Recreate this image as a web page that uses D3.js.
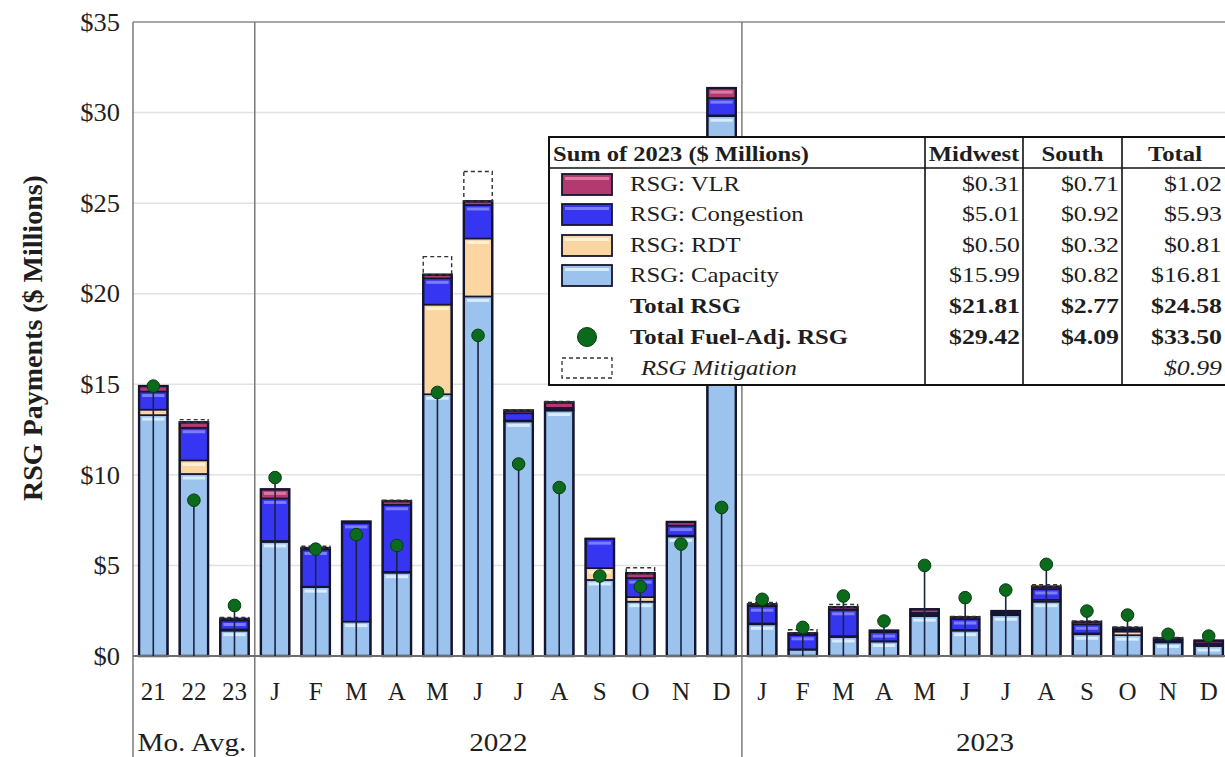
<!DOCTYPE html>
<html>
<head>
<meta charset="utf-8">
<script src="https://cdn.jsdelivr.net/npm/d3@7"></script>
<style>
  html, body { margin: 0; padding: 0; background: #fff; }
  svg { display: block; font-family: "Liberation Serif", "Times New Roman", serif; }
</style>
</head>
<body>
<svg id="chart" width="1225" height="757"></svg>
<script>
// ---------------- DATA ----------------
const categories = ["21","22","23","J","F","M","A","M","J","J","A","S","O","N","D","J","F","M","A","M","J","J","A","S","O","N","D"];
const groupLabels = ["Mo. Avg.", "2022", "2023"];
const groupSizes = [3, 12, 12];

const capacity   = [13.3, 10.05, 1.40,  6.3, 3.8, 1.9, 4.6, 14.45, 19.85, 12.95, 13.55, 4.2, 3.0, 6.6, 29.8,  1.75, 0.35, 1.05, 0.8, 2.2, 1.4, 2.25, 3.0, 1.2, 1.15, 0.75, 0.55];
const rdt        = [0.3, 0.75, 0.07,   0.05, 0.03, 0.0, 0.05, 4.95, 3.2, 0.05, 0.05, 0.65, 0.25, 0.05, 0.05,  0.05, 0.02, 0.05, 0.02, 0.08, 0.04, 0.08, 0.1, 0.05, 0.2, 0.05, 0.05];
const congestion = [1.0, 1.8, 0.49,    2.35, 2.05, 5.45, 3.7, 1.45, 1.85, 0.4, 0.1, 1.6, 1.05, 0.55, 0.95,  0.95, 0.8, 1.45, 0.5, 0.1, 0.6, 0.05, 0.6, 0.5, 0.1, 0.1, 0.1];
const vlr        = [0.3, 0.3, 0.09,    0.5, 0.08, 0.07, 0.2, 0.2, 0.2, 0.15, 0.3, 0.02, 0.27, 0.2, 0.55,  0.1, 0.08, 0.14, 0.08, 0.2, 0.1, 0.1, 0.13, 0.13, 0.1, 0.07, 0.15];
const mitigation = [0.0, 0.15, 0.08,   0.0, 0.1, 0.0, 0.05, 1.0, 1.65, 0.05, 0.05, 0.0, 0.3, 0.0, 0.0,  0.1, 0.2, 0.15, 0.0, 0.0, 0.05, 0.0, 0.1, 0.05, 0.05, 0.05, 0.0];
const fuelAdj    = [14.9, 8.6, 2.79,   9.85, 5.9, 6.7, 6.1, 14.55, 17.7, 10.6, 9.3, 4.42, 3.83, 6.18, 8.2,  3.13, 1.58, 3.31, 1.93, 5.0, 3.22, 3.64, 5.06, 2.48, 2.26, 1.2, 1.1];

const yTicks = [0, 5, 10, 15, 20, 25, 30, 35];
const yTitle = "RSG Payments ($ Millions)";

// Legend table
const tableHeader = ["Sum of  2023 ($ Millions)", "Midwest", "South", "Total"];
const tableLabels = ["RSG: VLR", "RSG: Congestion", "RSG: RDT", "RSG: Capacity", "Total RSG", "Total Fuel-Adj. RSG", "RSG Mitigation"];
const tableMidwest = ["$0.31", "$5.01", "$0.50", "$15.99", "$21.81", "$29.42", ""];
const tableSouth   = ["$0.71", "$0.92", "$0.32", "$0.82", "$2.77", "$4.09", ""];
const tableTotal   = ["$1.02", "$5.93", "$0.81", "$16.81", "$24.58", "$33.50", "$0.99"];

// ---------------- STYLES ----------------
const seriesKeys = ["capacity", "rdt", "congestion", "vlr"];
const colors = { capacity: "#9cc2ee", rdt: "#fbd6a2", congestion: "#3636f2", vlr: "#b23a70" };
const highlight = { capacity: "#d8ecff", rdt: "#fff0d8", congestion: "#7c7cff", vlr: "#d97aa0" };
const outline = "#15152e";
const textColor = "#1e1e1e";

const svg = d3.select("#chart");
const W = 1225, H = 757;
const plot = { left: 133, right: 1229, top: 22, bottom: 656 };

// text helper with horizontal stretch (reference type is set wide)
function stext(parent, x, y, str, o = {}) {
  const g = parent.append("g").attr("transform", `translate(${x},${y}) scale(${o.sx || 1},1)`);
  return g.append("text").attr("x", 0).attr("y", 0)
    .attr("text-anchor", o.anchor || "start")
    .attr("font-size", o.size || 22)
    .attr("font-weight", o.bold ? "bold" : "normal")
    .attr("font-style", o.italic ? "italic" : "normal")
    .attr("fill", o.fill || textColor)
    .text(str);
}

const x = d3.scaleBand().domain(d3.range(categories.length)).range([plot.left, plot.right]).paddingInner(0.3).paddingOuter(0.15);
const y = d3.scaleLinear().domain([0, 35]).range([plot.bottom, plot.top]);

// gridlines
svg.append("g").selectAll("line").data(yTicks.filter(d => d > 0 && d < 35)).join("line")
  .attr("x1", plot.left).attr("x2", plot.right)
  .attr("y1", d => y(d)).attr("y2", d => y(d))
  .attr("stroke", "#e2e2e2").attr("stroke-width", 1.5);

// frame
const frame = svg.append("g").attr("stroke", "#8a8a8a").attr("stroke-width", 1.5);
frame.append("line").attr("x1", plot.left).attr("x2", plot.right).attr("y1", plot.top).attr("y2", plot.top);
let cum = 0;
const sepIdx = [0];
groupSizes.forEach(n => { cum += n; sepIdx.push(cum); });
sepIdx.forEach(i => {
  const xx = plot.left + i * x.step();
  frame.append("line").attr("x1", xx).attr("x2", xx).attr("y1", plot.top).attr("y2", H).attr("stroke", "#7a7a7a");
});

// stacked data
const rows = categories.map((c, i) => ({ i, capacity: capacity[i], rdt: rdt[i], congestion: congestion[i], vlr: vlr[i] }));
const stack = d3.stack().keys(seriesKeys)(rows);

const bw = x.bandwidth();
const barsG = svg.append("g");
stack.forEach(layer => {
  const key = layer.key;
  const g = barsG.append("g");
  g.selectAll("rect.seg").data(layer).join("rect").attr("class", "seg")
    .attr("x", d => x(d.data.i)).attr("width", bw)
    .attr("y", d => y(d[1])).attr("height", d => Math.max(0, y(d[0]) - y(d[1])))
    .attr("fill", colors[key]).attr("stroke", outline).attr("stroke-width", 1.6);
  g.selectAll("rect.hl").data(layer.filter(d => y(d[0]) - y(d[1]) > 8)).join("rect").attr("class", "hl")
    .attr("x", d => x(d.data.i) + 3).attr("width", bw - 6)
    .attr("y", d => y(d[1]) + 2.5).attr("height", 3)
    .attr("fill", highlight[key]);
});
const totals = rows.map(r => r.capacity + r.rdt + r.congestion + r.vlr);
barsG.append("g").selectAll("rect").data(totals).join("rect")
  .attr("x", (d, i) => x(i)).attr("width", bw)
  .attr("y", d => y(d)).attr("height", d => y(0) - y(d))
  .attr("fill", "none").attr("stroke", outline).attr("stroke-width", 2.4);

// mitigation dashed boxes
svg.append("g").selectAll("rect").data(mitigation.map((m, i) => ({ m, i })).filter(d => d.m > 0)).join("rect")
  .attr("x", d => x(d.i)).attr("width", bw)
  .attr("y", d => y(totals[d.i] + d.m)).attr("height", d => y(totals[d.i]) - y(totals[d.i] + d.m))
  .attr("fill", "none").attr("stroke", "#333").attr("stroke-width", 1.4).attr("stroke-dasharray", "4,3");

// x axis line
svg.append("line").attr("x1", plot.left).attr("x2", plot.right).attr("y1", y(0)).attr("y2", y(0))
  .attr("stroke", "#6e6e6e").attr("stroke-width", 2);

// stems and dots
const dotsG = svg.append("g");
dotsG.selectAll("line").data(fuelAdj).join("line")
  .attr("x1", (d, i) => x(i) + bw / 2).attr("x2", (d, i) => x(i) + bw / 2)
  .attr("y1", y(0)).attr("y2", d => y(d))
  .attr("stroke", "#1a2340").attr("stroke-width", 1.6);
dotsG.selectAll("circle").data(fuelAdj).join("circle")
  .attr("cx", (d, i) => x(i) + bw / 2).attr("cy", d => y(d)).attr("r", 6.3)
  .attr("fill", "#0b6a1c").attr("stroke", "#073d10").attr("stroke-width", 1);

// y axis labels
const yAxis = d3.axisLeft(y).tickValues(yTicks).tickSize(0).tickPadding(0).tickFormat(d => "$" + d);
const yg = svg.append("g").attr("transform", `translate(120,0)`).call(yAxis);
yg.select(".domain").remove();
yg.selectAll("text").attr("font-family", "Liberation Serif").attr("font-size", 25).attr("fill", textColor)
  .attr("transform", "scale(1.06,1)").attr("dy", "0.33em");

// y title
svg.append("text").attr("transform", `translate(42,${338}) rotate(-90)`)
  .attr("text-anchor", "middle").attr("font-weight", "bold").attr("font-size", 28).attr("fill", textColor)
  .text(yTitle);

// x axis labels
const xAxis = d3.axisBottom(x).tickSize(0).tickPadding(0).tickFormat(i => categories[i]);
const xg = svg.append("g").attr("transform", `translate(0,700)`).call(xAxis);
xg.select(".domain").remove();
xg.selectAll("text").attr("font-family", "Liberation Serif").attr("font-size", 25).attr("fill", textColor).attr("dy", 0).attr("y", 0);

// group labels
let start = 0;
groupLabels.forEach((g, gi) => {
  const n = groupSizes[gi];
  const x0 = plot.left + start * x.step();
  const x1 = plot.left + (start + n) * x.step();
  const cx = gi === 0 ? (x0 + x1) / 2 - 2 : (gi === 2 ? 985 : (x0 + x1) / 2);
  stext(svg, cx, 751, g, { anchor: "middle", size: 26, sx: 1.12 });
  start += n;
});

// ---------------- LEGEND TABLE ----------------
const T = { x0: 549, x1: 1240, top: 137, headerBottom: 168, bottom: 385 };
const colX = [549, 925, 1023, 1122, 1240];
const lg = svg.append("g");
lg.append("rect").attr("x", T.x0).attr("y", T.top).attr("width", T.x1 - T.x0).attr("height", T.bottom - T.top)
  .attr("fill", "#fff").attr("stroke", "#111").attr("stroke-width", 2);
lg.append("line").attr("x1", T.x0).attr("x2", T.x1).attr("y1", T.headerBottom).attr("y2", T.headerBottom).attr("stroke", "#111").attr("stroke-width", 1.6);
[1, 2, 3].forEach(c => lg.append("line").attr("x1", colX[c]).attr("x2", colX[c]).attr("y1", T.top).attr("y2", T.bottom).attr("stroke", "#111").attr("stroke-width", 1.6));

const SX = 1.15, FS = 21.5;
stext(lg, 553, 161, tableHeader[0], { bold: true, size: FS, sx: 1.14 });
[1, 2, 3].forEach(c => stext(lg, (colX[c] + Math.min(colX[c + 1], 1228)) / 2, 161, tableHeader[c],
  { anchor: "middle", bold: true, size: FS, sx: SX }));

const rowY = [184, 214, 245, 275, 306, 337, 368];
const swatchKeys = ["vlr", "congestion", "rdt", "capacity", null, "dot", "mit"];
tableLabels.forEach((lab, r) => {
  const cy = rowY[r];
  const sk = swatchKeys[r];
  if (sk && colors[sk]) {
    lg.append("rect").attr("x", 562).attr("y", cy - 10).attr("width", 50).attr("height", 21)
      .attr("fill", colors[sk]).attr("stroke", outline).attr("stroke-width", 1.8);
    lg.append("rect").attr("x", 565).attr("y", cy - 7).attr("width", 44).attr("height", 3).attr("fill", highlight[sk]);
  } else if (sk === "dot") {
    lg.append("circle").attr("cx", 587).attr("cy", cy).attr("r", 9.5).attr("fill", "#0b6a1c").attr("stroke", "#073d10");
  } else if (sk === "mit") {
    lg.append("rect").attr("x", 562).attr("y", cy - 10).attr("width", 50).attr("height", 20)
      .attr("fill", "none").attr("stroke", "#333").attr("stroke-width", 1.3).attr("stroke-dasharray", "4,3");
  }
  const bold = (r === 4 || r === 5);
  const ital = r === 6;
  stext(lg, ital ? 641 : 630, cy + 7, lab, { size: FS, sx: SX, bold, italic: ital });
  [[tableMidwest, 2], [tableSouth, 3], [tableTotal, 4]].forEach(([arr, c]) => {
    if (!arr[r]) return;
    const xr = c === 4 ? 1222 : colX[c] - 3;
    stext(lg, xr, cy + 7, arr[r], { anchor: "end", size: FS, sx: 1.2, bold, italic: ital });
  });
});
</script>
</body>
</html>
